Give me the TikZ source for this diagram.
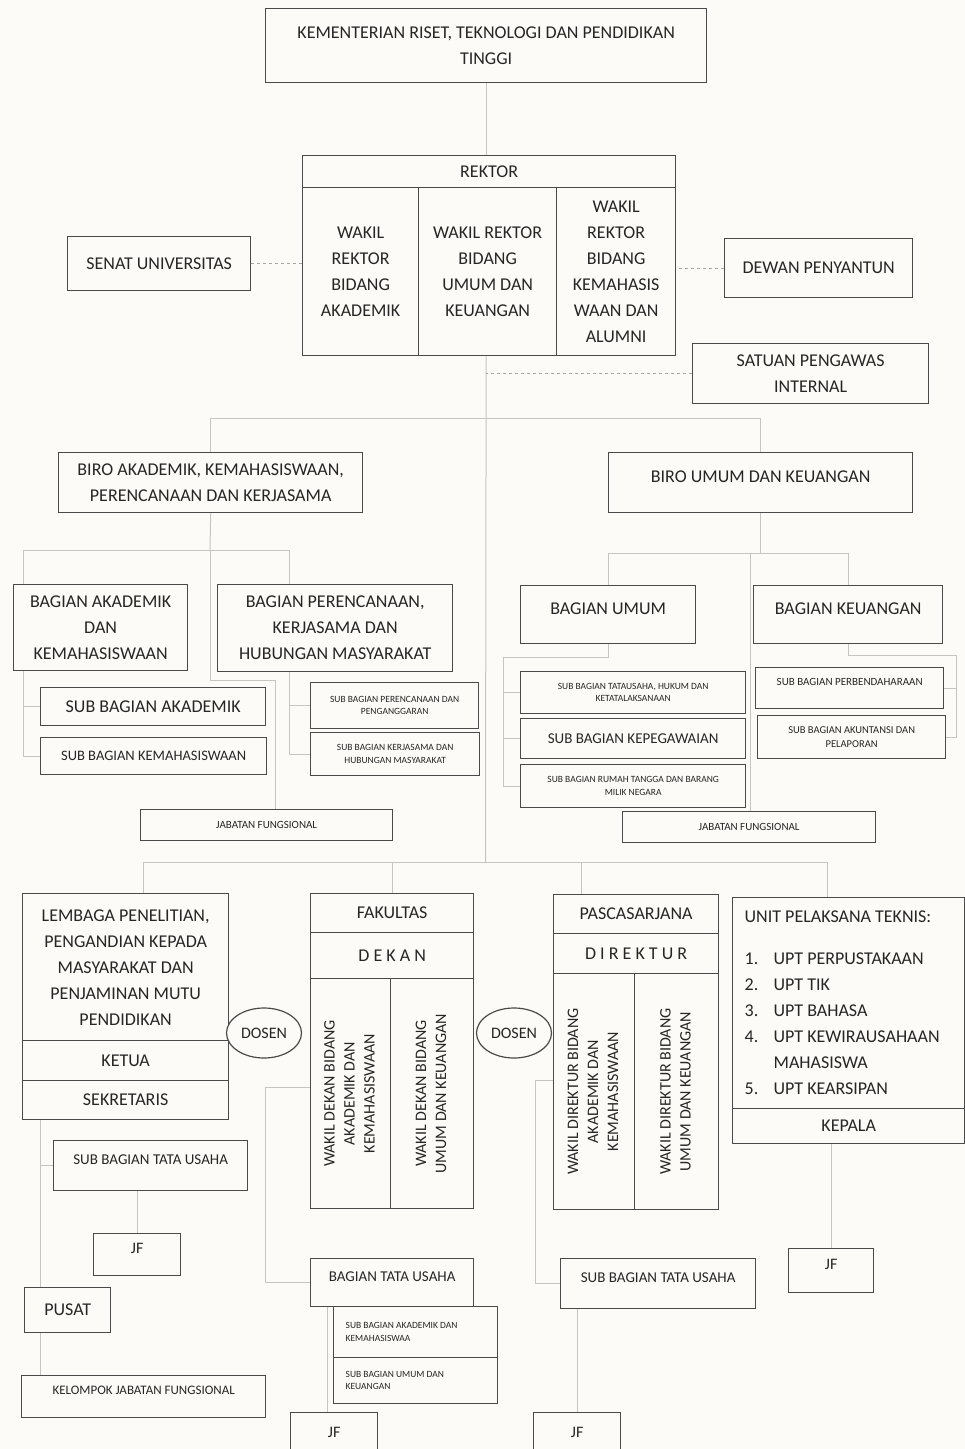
\documentclass[tikz,border=0pt]{standalone}
\usepackage{fontspec}
\usepackage{graphicx}
\setmainfont{Carlito}
\usetikzlibrary{shapes.geometric,positioning}
\definecolor{ChartInk}{HTML}{262626}
\definecolor{ChartFrame}{HTML}{4A4A4A}
\definecolor{ChartLink}{HTML}{C6C6C0}
\definecolor{ChartDash}{HTML}{A8A8A2}
\definecolor{ChartPaper}{HTML}{FCFBF7}
\pgfdeclarelayer{background}
\pgfsetlayers{background,main}
\tikzset{
  unit/.style={draw=ChartFrame, line width=1.3pt, fill=ChartPaper, text=ChartInk, align=center,
    inner sep=2pt, anchor=north west, font=\fontsize{18}{26}\selectfont},
  mid/.style={font=\fontsize{15}{19}\selectfont},
  vert/.style={font=\fontsize{16}{20}\selectfont},
  small/.style={font=\fontsize{11}{14}\selectfont},
  tiny/.style={font=\fontsize{9.5}{12.5}\selectfont},
  lifted/.style={text depth=12pt},
  staff/.style={ellipse, draw=ChartFrame, line width=1.2pt, fill=ChartPaper, text=ChartInk,
    inner sep=0pt, minimum width=75pt, minimum height=50pt, font=\fontsize{16}{18}\selectfont},
  link/.style={draw=ChartLink, line width=1pt},
  side/.style={draw=ChartDash, line width=1pt, dashed},
}

\begin{document}
\begin{tikzpicture}[x=1pt,y=-1pt]
  \useasboundingbox (0,0) rectangle (965,1449);
  \begin{pgfonlayer}{background}
    \fill[ChartPaper] (0,0) rectangle (965,1449);
  \end{pgfonlayer}

  % Ministry, rector and advisory bodies
  \node[unit, minimum width=441pt, minimum height=74pt] (kem) at (265,8)
    {KEMENTERIAN RISET, TEKNOLOGI DAN PENDIDIKAN\\TINGGI};
  \node[unit, minimum width=373pt, minimum height=32pt] (rektor) at (302,155) {REKTOR};
  \node[unit, minimum width=116pt, minimum height=168pt] (wr1) at (302,187)
    {WAKIL\\REKTOR\\BIDANG\\AKADEMIK};
  \node[unit, minimum width=138pt, minimum height=168pt] (wr2) at (418,187)
    {WAKIL REKTOR\\BIDANG\\UMUM DAN\\KEUANGAN};
  \node[unit, minimum width=119pt, minimum height=168pt] (wr3) at (556,187)
    {WAKIL\\REKTOR\\BIDANG\\KEMAHASIS\\WAAN DAN\\ALUMNI};
  \node[unit, minimum width=183pt, minimum height=54pt] (senat) at (67,236) {SENAT UNIVERSITAS};
  \node[unit, minimum width=188pt, minimum height=59pt] (dewan) at (724,238) {DEWAN PENYANTUN};
  \node[unit, minimum width=236pt, minimum height=60pt] (spi) at (692,343) {SATUAN PENGAWAS\\INTERNAL};

  % Bureaus
  \node[unit, minimum width=304pt, minimum height=60pt] (biroA) at (58,452)
    {BIRO AKADEMIK, KEMAHASISWAAN,\\PERENCANAAN DAN KERJASAMA};
  \node[unit, lifted, minimum width=304pt, minimum height=60pt] (biroU) at (608,452) {BIRO UMUM DAN KEUANGAN};

  % Divisions under the academic bureau
  \node[unit, minimum width=174pt, minimum height=86pt] (bagAk) at (13,584)
    {BAGIAN AKADEMIK\\DAN\\KEMAHASISWAAN};
  \node[unit, minimum width=235pt, minimum height=87pt] (bagPer) at (217,584)
    {BAGIAN PERENCANAAN,\\KERJASAMA DAN\\HUBUNGAN MASYARAKAT};
  \node[unit, minimum width=225pt, minimum height=38pt] (subAkd) at (40,687) {SUB BAGIAN AKADEMIK};
  \node[unit, font=\fontsize{14.5}{18}\selectfont, minimum width=226pt, minimum height=37pt] (subKem) at (40,737)
    {SUB BAGIAN KEMAHASISWAAN};
  \node[unit, tiny, minimum width=168pt, minimum height=46pt] (subPer1) at (310,682)
    {SUB BAGIAN PERENCANAAN DAN\\PENGANGGARAN};
  \node[unit, tiny, minimum width=169pt, minimum height=43pt] (subPer2) at (310,732)
    {SUB BAGIAN KERJASAMA DAN\\HUBUNGAN MASYARAKAT};
  \node[unit, small, minimum width=252pt, minimum height=31pt] (jfA) at (140,809) {JABATAN FUNGSIONAL};

  % Divisions under the general bureau
  \node[unit, lifted, minimum width=175pt, minimum height=58pt] (bagUm) at (520,585) {BAGIAN UMUM};
  \node[unit, lifted, minimum width=189pt, minimum height=58pt] (bagKeu) at (753,585) {BAGIAN KEUANGAN};
  \node[unit, tiny, minimum width=225pt, minimum height=42pt] (subTU) at (520,671)
    {SUB BAGIAN TATAUSAHA, HUKUM DAN\\KETATALAKSANAAN};
  \node[unit, mid, minimum width=225pt, minimum height=40pt] (subPeg) at (520,718) {SUB BAGIAN KEPEGAWAIAN};
  \node[unit, tiny, minimum width=225pt, minimum height=43pt] (subRT) at (520,764)
    {SUB BAGIAN RUMAH TANGGA DAN BARANG\\MILIK NEGARA};
  \node[unit, small, lifted, minimum width=188pt, minimum height=41pt] (subPbd) at (755,667)
    {SUB BAGIAN PERBENDAHARAAN};
  \node[unit, font=\fontsize{10.5}{14}\selectfont, minimum width=188pt, minimum height=43pt] (subAku) at (757,715)
    {SUB BAGIAN AKUNTANSI DAN\\PELAPORAN};
  \node[unit, small, minimum width=253pt, minimum height=31pt] (jfU) at (622,811) {JABATAN FUNGSIONAL};

  % Institute
  \node[unit, minimum width=206pt, minimum height=147pt] (lem) at (22,893)
    {LEMBAGA PENELITIAN,\\PENGANDIAN KEPADA\\MASYARAKAT DAN\\PENJAMINAN MUTU\\PENDIDIKAN};
  \node[unit, minimum width=206pt, minimum height=40pt] (ketua) at (22,1040) {KETUA};
  \node[unit, minimum width=206pt, minimum height=39pt] (sek) at (22,1080) {SEKRETARIS};
  \node[staff] (dosenL) at (264,1033) {DOSEN};

  % Faculty
  \node[unit, minimum width=163pt, minimum height=39pt] (fak) at (310,893) {FAKULTAS};
  \node[unit, minimum width=163pt, minimum height=46pt] (dekan) at (310,932) {D E K A N};
  \node[unit, vert, minimum width=80pt, minimum height=230pt] (fakL) at (310,978)
    {\rotatebox{90}{\begin{tabular}{@{}c@{}}WAKIL DEKAN BIDANG\\AKADEMIK DAN\\KEMAHASISWAAN\end{tabular}}};
  \node[unit, vert, minimum width=83pt, minimum height=230pt] (fakR) at (390,978)
    {\rotatebox{90}{\begin{tabular}{@{}c@{}}WAKIL DEKAN BIDANG\\UMUM DAN KEUANGAN\end{tabular}}};
  \node[staff] (dosenR) at (514,1033) {DOSEN};

  % Graduate school
  \node[unit, minimum width=165pt, minimum height=39pt] (pas) at (553,894) {PASCASARJANA};
  \node[unit, minimum width=165pt, minimum height=40pt] (dir) at (553,933) {D I R E K T U R};
  \node[unit, vert, minimum width=81pt, minimum height=236pt] (pasL) at (553,973)
    {\rotatebox{90}{\begin{tabular}{@{}c@{}}WAKIL DIREKTUR BIDANG\\AKADEMIK DAN\\KEMAHASISWAAN\end{tabular}}};
  \node[unit, vert, minimum width=84pt, minimum height=236pt] (pasR) at (634,973)
    {\rotatebox{90}{\begin{tabular}{@{}c@{}}WAKIL DIREKTUR BIDANG\\UMUM DAN KEUANGAN\end{tabular}}};

  % Technical units
  \node[unit, align=flush left, text width=208pt, minimum width=232pt, minimum height=211pt] (upt) at (732,897)
    {UNIT PELAKSANA TEKNIS:\\[16pt]
     \makebox[29pt][l]{1.}UPT PERPUSTAKAAN\\
     \makebox[29pt][l]{2.}UPT TIK\\
     \makebox[29pt][l]{3.}UPT BAHASA\\
     \makebox[29pt][l]{4.}UPT KEWIRAUSAHAAN\\
     \hspace*{29pt}MAHASISWA\\
     \makebox[29pt][l]{5.}UPT KEARSIPAN};
  \node[unit, minimum width=232pt, minimum height=35pt] (kepala) at (732,1108) {KEPALA};

  % Lower units
  \node[unit, mid, lifted, minimum width=194pt, minimum height=50pt] (subTUl) at (53,1140) {SUB BAGIAN TATA USAHA};
  \node[unit, font=\fontsize{16}{18}\selectfont, lifted, minimum width=87pt, minimum height=42pt] (jfL) at (93,1233) {JF};
  \node[unit, minimum width=86pt, minimum height=45pt] (pusat) at (24,1287) {PUSAT};
  \node[unit, font=\fontsize{13}{16}\selectfont, lifted, minimum width=244pt, minimum height=42pt] (kel) at (21,1375)
    {KELOMPOK JABATAN FUNGSIONAL};
  \node[unit, mid, lifted, minimum width=163pt, minimum height=48pt] (bagTU) at (310,1258) {BAGIAN TATA USAHA};
  \node[unit, tiny, align=flush left, text width=140pt, minimum width=164pt, minimum height=51pt] (subBA) at (333,1306)
    {SUB BAGIAN AKADEMIK DAN\\KEMAHASISWAA};
  \node[unit, tiny, align=flush left, text width=140pt, minimum width=164pt, minimum height=46pt] (subBU) at (333,1357)
    {SUB BAGIAN UMUM DAN\\KEUANGAN};
  \node[unit, font=\fontsize{16}{18}\selectfont, minimum width=87pt, minimum height=40pt] (jfF) at (290,1412) {JF};
  \node[unit, mid, lifted, minimum width=195pt, minimum height=50pt] (subTUp) at (560,1258) {SUB BAGIAN TATA USAHA};
  \node[unit, font=\fontsize{16}{18}\selectfont, minimum width=87pt, minimum height=40pt] (jfP) at (533,1412) {JF};
  \node[unit, font=\fontsize{16}{18}\selectfont, lifted, minimum width=85pt, minimum height=44pt] (jfUpt) at (788,1248) {JF};

  % Junction points
  \coordinate (jBiro) at (485.5,418);
  \coordinate (jLow) at (485.5,862);
  \coordinate (jA) at (210,550);
  \coordinate (jAL) at (23,550);
  \coordinate (jAR) at (289,550);
  \coordinate (jfAturn) at (275,680);
  \coordinate (jU) at (750,553);
  \coordinate (jUm) at (503,657);
  \coordinate (jK) at (956,655);
  \coordinate (jLem) at (143,862);
  \coordinate (jPas) at (581,862);
  \coordinate (jUpt) at (827,862);
  \coordinate (jLB) at (40,1119);
  \coordinate (jF) at (265,1087);
  \coordinate (jT) at (327,1306);
  \coordinate (jP) at (535,1080);

  \begin{pgfonlayer}{background}
    % Main line of command
    \draw[link] (kem.south) -- (kem.south |- rektor.north);
    \draw[link] (kem.south |- wr2.south) -- (jLow);
    \draw[side] (senat.east) -- (senat.east -| wr1.west);
    \draw[side] (dewan.west) -- (dewan.west -| wr3.east);
    \draw[side] (spi.west) -- (spi.west -| kem.south);
    \draw[link] (biroA.north) -- (biroA.north |- jBiro) -| (biroU.north);
    % Academic bureau
    \draw[link] (biroA.south) -- (jA);
    \draw[link] (jAL) -- (jAR);
    \draw[link] (jAL) |- (subKem.west);
    \draw[link] (jAL |- subAkd.west) -- (subAkd.west);
    \draw[link] (jAR) |- (subPer2.west);
    \draw[link] (jAR |- subPer1.west) -- (subPer1.west);
    \draw[link] (jA) |- (jfAturn) -- (jfAturn |- jfA.north);
    % General bureau
    \draw[link] (biroU.south) -- (biroU.south |- jU);
    \draw[link] (bagUm.north) -- (bagUm.north |- jU) -- (bagKeu.north |- jU) -- (bagKeu.north);
    \draw[link] (jU) -- (jU |- jfU.north);
    \draw[link] (bagUm.south) |- (jUm) |- (subRT.west);
    \draw[link] (jUm |- subTU.west) -- (subTU.west);
    \draw[link] (jUm |- subPeg.west) -- (subPeg.west);
    \draw[link] (bagKeu.south) |- (jK) |- (subAku.east);
    \draw[link] (jK |- subPbd.east) -- (subPbd.east);
    % Institute, faculty, graduate school, technical units
    \draw[link] (jLem) -- (jUpt);
    \draw[link] (jLem) -- (jLem |- lem.north);
    \draw[link] (fak.north) -- (fak.north |- jLow);
    \draw[link] (jPas) -- (jPas |- pas.north);
    \draw[link] (jUpt) -- (jUpt |- upt.north);
    \draw[link] (jLB) -- (jLB |- kel.north);
    \draw[link] (jLB |- subTUl.west) -- (subTUl.west);
    \draw[link] (subTUl.south -| jfL.north) -- (jfL.north);
    \draw[link] (fak.west |- jF) -- (jF) |- (bagTU.west);
    \draw[link] (jT) -- (jT |- jfF.north);
    \draw[link] (pas.west |- jP) -- (jP) |- (subTUp.west);
    \draw[link] (subTUp.south -| jfP.north) -- (jfP.north);
    \draw[link] (kepala.south -| jfUpt.north) -- (jfUpt.north);
  \end{pgfonlayer}
\end{tikzpicture}
\end{document}
